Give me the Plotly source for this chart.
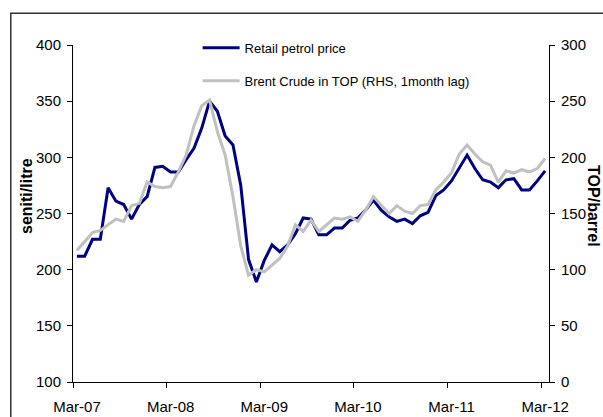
import plotly.graph_objects as go
import pandas as pd

# Monthly categories Mar-07 .. Mar-12
months = [p.strftime("%b-%y") for p in pd.period_range("2007-03", "2012-03", freq="M")]
tick_labels = ["Mar-07", "Mar-08", "Mar-09", "Mar-10", "Mar-11", "Mar-12"]

# Retail petrol price, seniti/litre (left axis)
retail_petrol = [212, 212, 227, 227, 273, 261, 258, 245, 258, 265,
                 291, 292, 287, 287, 298, 308, 326, 350, 341, 319,
                 311, 275, 209, 189, 208, 222, 216, 222, 232, 246,
                 245, 231, 231, 237, 237, 244, 246, 253, 262, 253,
                 247, 243, 245, 241, 248, 251, 266, 271, 279, 291,
                 302, 290, 280, 278, 273, 280, 281, 271, 271, 279, 288]

# Brent crude in TOP/barrel, 1 month lag (right axis)
brent_top = [117, 125, 133, 135, 140, 145, 143, 157, 159, 178,
             174, 173, 174, 187, 202, 228, 246, 251, 223, 202,
             165, 121, 95, 100, 98, 104, 110, 121, 140, 134,
             144, 134, 140, 146, 145, 147, 143, 153, 165, 157,
             150, 157, 152, 150, 157, 158, 171, 178, 186, 203,
             211, 203, 196, 193, 178, 188, 186, 189, 187, 190, 199]

x_idx = list(range(len(months)))
tick_pos = [months.index(m) - 0.5 for m in tick_labels]

FONT = "Liberation Sans, Arial, sans-serif"

fig = go.Figure()
fig.add_trace(go.Scatter(
    x=x_idx, y=retail_petrol, name="Retail petrol price", mode="lines",
    line=dict(color="#000080", width=3), legendgroup="a",
    customdata=months, hovertemplate="%{customdata}: %{y}<extra></extra>"))
fig.add_trace(go.Scatter(
    x=x_idx, y=brent_top, name="Brent Crude in TOP (RHS, 1month lag)", mode="lines",
    line=dict(color="#c0c0c0", width=3), yaxis="y2", legendgroup="b",
    customdata=months, hovertemplate="%{customdata}: %{y}<extra></extra>"))

axis_common = dict(showgrid=False, zeroline=False, showline=True, linecolor="black",
                   linewidth=1, ticks="outside", ticklen=5, tickcolor="black",
                   automargin=False,
                   tickfont=dict(family=FONT, size=15, color="black"))

fig.update_layout(
    width=603, height=417,
    margin=dict(l=73, r=54, t=45, b=35, autoexpand=False),
    paper_bgcolor="white", plot_bgcolor="white",
    showlegend=True,
    legend=dict(x=0.2618, y=1.036, xanchor="left", yanchor="top",
                font=dict(family=FONT, size=13, color="black"),
                itemwidth=37,
                bgcolor="rgba(0,0,0,0)", tracegroupgap=13, traceorder="grouped"),
    xaxis=dict(range=[-0.5, len(months) - 0.5], tickmode="array",
               tickvals=tick_pos, ticktext=tick_labels, ticklabelshift=4,
               ticklabelstandoff=6, **axis_common),
    yaxis=dict(range=[100, 400], tickmode="linear", tick0=100, dtick=50,
               ticklabelstandoff=3, **axis_common),
    yaxis2=dict(range=[0, 300], tickmode="linear", tick0=0, dtick=50, overlaying="y",
                side="right", ticklabelstandoff=3, **axis_common),
    annotations=[
        dict(text="<b>seniti/litre</b>", xref="paper", yref="paper",
             x=-0.0966, y=0.552, xanchor="center", yanchor="middle",
             textangle=-90, showarrow=False,
             font=dict(family=FONT, size=16, color="black")),
        dict(text="<b>TOP/barrel</b>", xref="paper", yref="paper",
             x=1.0945, y=0.522, xanchor="center", yanchor="middle",
             textangle=90, showarrow=False,
             font=dict(family=FONT, size=16, color="black")),
    ],
    shapes=[
        dict(type="rect", xref="paper", yref="paper", x0=-0.1307, x1=1.2,
             y0=-0.2, y1=1.094, line=dict(color="#333333", width=1.5),
             fillcolor="rgba(0,0,0,0)", layer="above"),
    ],
)

fig.write_html(
    "out.html",
    config={"displayModeBar": False},
    post_script="document.body.style.margin='0px';document.body.style.overflow='hidden';",
)
